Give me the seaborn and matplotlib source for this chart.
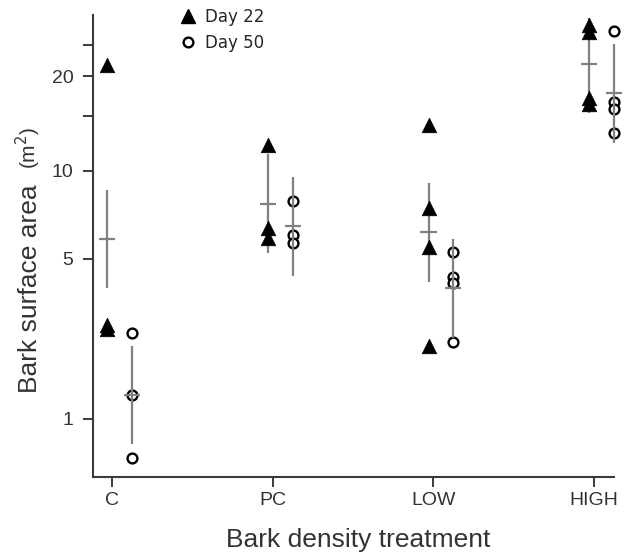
import numpy as np
import pandas as pd
import matplotlib
matplotlib.use("Agg")
import matplotlib.pyplot as plt
import seaborn as sns
from matplotlib.lines import Line2D

# ---------------- data ----------------
categories = ["C", "PC", "LOW", "HIGH"]
series = ["Day 22", "Day 50"]

# individual observations per treatment (m^2)
day22_C = [21.7, 2.8, 2.7]
day22_PC = [12.1, 6.4, 5.9]
day22_LOW = [14.0, 7.5, 5.5, 2.3]
day22_HIGH = [28.9, 27.5, 17.1, 16.4]

day50_C = [2.6, 1.35, 0.53]
day50_PC = [7.9, 6.05, 5.7]
day50_LOW = [5.3, 4.3, 4.1, 2.4]
day50_HIGH = [27.7, 16.6, 15.8, 13.2]

# group means and error-bar limits (back-transformed)
day22_mean = [5.86, 7.77, 6.2, 21.8]
day22_low = [3.9, 5.25, 4.13, 15.3]
day22_high = [8.6, 11.3, 9.09, 30.4]

day50_mean = [1.35, 6.5, 3.9, 17.7]
day50_low = [0.68, 4.35, 2.49, 12.3]
day50_high = [2.3, 9.52, 5.87, 25.2]

ytick_values = [1, 5, 10, 15, 20, 25]
ytick_labels = ["1", "5", "10", "", "20", ""]

# ---------------- build tables ----------------
obs = {
    "Day 22": [day22_C, day22_PC, day22_LOW, day22_HIGH],
    "Day 50": [day50_C, day50_PC, day50_LOW, day50_HIGH],
}
offset = {"Day 22": -0.03, "Day 50": 0.125}
rows = []
for day in series:
    for i, cat in enumerate(categories):
        for v in obs[day][i]:
            rows.append({"treatment": cat, "day": day, "area": v,
                         "xpos": i + offset[day]})
df = pd.DataFrame(rows)

summ = pd.DataFrame({
    "treatment": categories * 2,
    "day": ["Day 22"] * 4 + ["Day 50"] * 4,
    "mean": day22_mean + day50_mean,
    "lo": day22_low + day50_low,
    "hi": day22_high + day50_high,
})
summ["xpos"] = [categories.index(c) + offset[d] for c, d in zip(summ["treatment"], summ["day"])]

# ---------------- plot ----------------
sns.set_theme(style="ticks")
plt.rcParams["font.family"] = ["Liberation Sans", "DejaVu Sans"]

W, H = 626, 556
fig = plt.figure(figsize=(W / 100, H / 100), dpi=100)
ax_l, ax_r, ax_t, ax_b = 93, 614, 15, 477
ax = fig.add_axes([ax_l / W, 1 - ax_b / H, (ax_r - ax_l) / W, (ax_b - ax_t) / H])

fwd = lambda v: np.log10(np.clip(v + 1, 1e-6, None))
inv = lambda t: 10 ** t - 1
ax.set_yscale("function", functions=(fwd, inv))

axis_col = "#3a3a3a"
bar_col = "#808080"

# open circles (Day 50) below the error bars
sns.scatterplot(data=df[df["day"] == "Day 50"], x="xpos", y="area", marker="o",
                s=50, color="white", edgecolor="black", linewidth=1.7,
                zorder=2, ax=ax, legend=False, clip_on=False)

# error bars + mean ticks
for _, r in summ.iterrows():
    ax.vlines(r["xpos"], r["lo"], r["hi"], color=bar_col, lw=1.6, zorder=3,
              clip_on=False)
    ax.hlines(r["mean"], r["xpos"] - 0.05, r["xpos"] + 0.05, color=bar_col,
              lw=1.6, zorder=3, clip_on=False)

# filled triangles (Day 22) on top
sns.scatterplot(data=df[df["day"] == "Day 22"], x="xpos", y="area", marker="^",
                s=110, color="black", edgecolor="black", linewidth=0.5,
                zorder=4, ax=ax, legend=False, clip_on=False)

# axes styling
spacing = 160.7
ax.set_xlim(-(112 - ax_l) / spacing, 3 + (ax_r - 594) / spacing)
ax.set_ylim(0.342, 31.0)
ax.set_xticks(range(len(categories)))
ax.set_xticklabels(categories)
ax.set_yticks(ytick_values)
ax.set_yticklabels(ytick_labels)
ax.yaxis.set_minor_locator(matplotlib.ticker.NullLocator())

for side in ["top", "right"]:
    ax.spines[side].set_visible(False)
for side in ["left", "bottom"]:
    ax.spines[side].set_color(axis_col)
    ax.spines[side].set_linewidth(1.5)

ax.tick_params(axis="both", direction="out", length=7, width=1.4,
               color=axis_col, labelcolor="#333333", labelsize=14)
ax.tick_params(axis="y", pad=7)
ax.tick_params(axis="x", pad=4)

ax.set_xlabel("")
ax.set_ylabel("")
fig.text(358 / W, 1 - 540 / H, "Bark density treatment", ha="center", va="center",
         fontsize=19, color="#333333")
fig.text(30 / W, 1 - 289 / H, "Bark surface area", ha="center", va="center",
         rotation=90, fontsize=19, color="#333333")
fig.text(28 / W, 1 - 148 / H, r"(m$^2$)", ha="center", va="center",
         rotation=90, fontsize=15, color="#333333")

handles = [
    Line2D([], [], marker="^", ls="none", color="black", markersize=10.5),
    Line2D([], [], marker="o", ls="none", markerfacecolor="white",
           markeredgecolor="black", markeredgewidth=1.7, markersize=7),
]
ax.legend(handles, series, loc="upper left", bbox_to_anchor=(180 / W, 1 - 8 / H),
          bbox_transform=fig.transFigure, frameon=False, handlelength=1.0,
          handletextpad=0.5, labelspacing=0.5, borderpad=0, borderaxespad=0,
          prop={"family": "DejaVu Sans", "size": 12})

fig.savefig("out.png", dpi=100)
